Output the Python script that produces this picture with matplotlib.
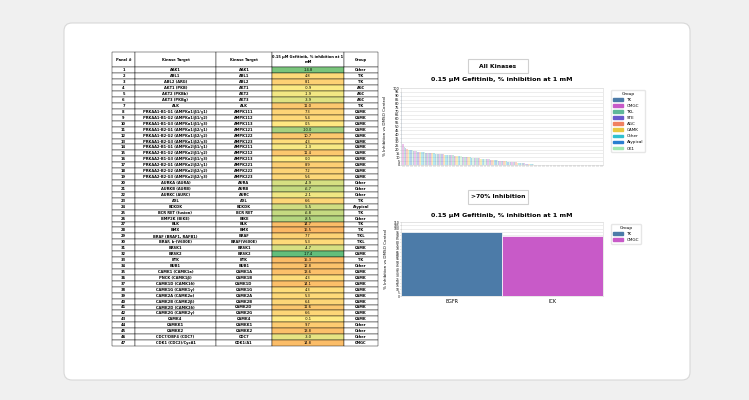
import matplotlib
matplotlib.use("Agg")
import matplotlib.pyplot as plt
from matplotlib.patches import FancyBboxPatch, Rectangle
from matplotlib.colors import LinearSegmentedColormap, Normalize

W, H = 749, 400
panel = list(range(1, 48))
targets = ["AAK1", "ABL1", "ABL2 (ARG)", "AKT1 (PKB)", "AKT2 (PKBb)", "AKT3 (PKBg)", "ALK",
           "PRKAA1-B1-G1 (AMPKα1/β1/γ1)", "PRKAA1-B1-G2 (AMPKα1/β1/γ2)", "PRKAA1-B1-G3 (AMPKα1/β1/γ3)",
           "PRKAA1-B2-G1 (AMPKα1/β2/γ1)", "PRKAA1-B2-G2 (AMPKα1/β2/γ2)", "PRKAA1-B2-G3 (AMPKα1/β2/γ3)",
           "PRKAA2-B1-G1 (AMPKα2/β1/γ1)", "PRKAA2-B1-G2 (AMPKα2/β1/γ2)", "PRKAA2-B1-G3 (AMPKα2/β1/γ3)",
           "PRKAA2-B2-G1 (AMPKα2/β2/γ1)", "PRKAA2-B2-G2 (AMPKα2/β2/γ2)", "PRKAA2-B2-G3 (AMPKα2/β2/γ3)",
           "AURKA (AURA)", "AURKB (AURB)", "AURKC (AURC)", "AXL", "BCKDK", "BCR RET (fusion)", "BMP2K (BIKE)",
           "BLK", "BMX", "BRAF (BRAF1, RAFB1)", "BRAF, b-(V600E)", "BRSK1", "BRSK2", "BTK", "BUB1",
           "CAMK1 (CAMK1a)", "PNCK (CAMK1β)", "CAMK1D (CAMK1δ)", "CAMK1G (CAMK1γ)", "CAMK2A (CAMK2α)",
           "CAMK2B (CAMK2β)", "CAMK2D (CAMK2δ)", "CAMK2G (CAMK2γ)", "CAMK4", "CAMKK1", "CAMKK2",
           "CDC7/DBF4 (CDC7)", "CDK1 (CDC2)/CycA1"]
short = ["AAK1", "ABL1", "ABL2", "AKT1", "AKT2", "AKT3", "ALK", "AMPK111", "AMPK112", "AMPK113",
         "AMPK121", "AMPK122", "AMPK123", "AMPK211", "AMPK212", "AMPK213", "AMPK221", "AMPK222", "AMPK223",
         "AURA", "AURB", "AURC", "AXL", "BCKDK", "BCR RET", "BIKE", "BLK", "BMX", "BRAF", "BRAF(V600E)",
         "BRSK1", "BRSK2", "BTK", "BUB1", "CAMK1A", "CAMK1B", "CAMK1D", "CAMK1G", "CAMK2A", "CAMK2B",
         "CAMK2D", "CAMK2G", "CAMK4", "CAMKK1", "CAMKK2", "CDC7", "CDK1/A1"]
inhib = [-14.8, 4.8, 8.1, -0.9, -1.9, -3.9, 11.0, 7.3, 5.4, 0.5, -10.0, 10.7, 4.3, -1.3, 11.4, 0.0,
         8.9, 7.2, 5.6, -4.9, -6.7, -2.1, 6.6, -5.5, -6.8, -8.5, 14.7, 16.5, 7.7, 5.3, -4.7, -17.4,
         15.3, 12.8, 13.6, 4.3, 14.1, 4.3, 5.3, 6.4, 11.6, 6.6, -0.1, 9.7, 13.8, -3.0, 14.8]
groups = ["Other", "TK", "TK", "AGC", "AGC", "AGC", "TK"] + ["CAMK"] * 12 + ["Other"] * 3 + \
         ["TK", "Atypical", "TK", "Other", "TK", "TK", "TKL", "TKL", "CAMK", "CAMK", "TK", "Other"] + \
         ["CAMK"] * 9 + ["Other"] * 3 + ["CMGC"]

legend_groups = ["TK", "CMGC", "TKL", "STE", "AGC", "CAMK", "Other", "Atypical", "CK1"]
group_colors = ["#4c7ba8", "#c85ac8", "#5fb89a", "#6a5acd", "#f08060", "#e8c840", "#30c0d0", "#2a7fd0", "#a0e8b0"]

all_values = [93, 27, 24, 22, 21, 20, 20, 19, 19, 18.5, 18, 18, 17.5, 17.5, 17, 17, 16.5, 16.5, 16, 16,
              15.8, 15.5, 15.3, 15, 15, 14.8, 14.7, 14.5, 14.3, 14.1, 14, 13.8, 13.6, 13.4, 13.2, 13, 12.8,
              12.6, 12.4, 12.2, 12, 11.8, 11.6, 11.4, 11.2, 11, 10.8, 10.7, 10.5, 10.3, 10.1, 9.9, 9.7, 9.5,
              9.3, 9.1, 8.9, 8.7, 8.5, 8.3, 8.1, 7.9, 7.7, 7.5, 7.3, 7.2, 7.0, 6.8, 6.6, 6.4, 6.2, 6.0, 5.8,
              5.6, 5.4, 5.3, 5.1, 4.9, 4.7, 4.5, 4.3, 4.1, 3.9, 3.7, 3.5, 3.3, 3.1, 2.9, 2.7, 2.5, 2.3, 2.1,
              1.9, 1.7, 1.5, 1.3, 1.1, 0.9, 0.7, 0.5, 0.3, 0.1, 0, -0.1, -0.3, -0.5, -0.7, -0.9, -1.1, -1.3,
              -1.5, -1.7, -1.9, -2.1, -2.3, -2.5, -2.7, -2.9, -3.1, -3.3, -3.5, -3.7, -3.9, -4.1, -4.3, -4.5,
              -4.7, -4.9, -5.1, -5.3, -5.5, -5.7, -6.0, -6.3, -6.6, -6.9, -7.2, -7.5, -7.8, -8.1, -8.5, -9.0,
              -9.5, -10.0, -10.5, -11.0, -12.0, -13.0, -14.8, -17.4]

top_names = ["EGFR", "ICK"]
top_values = [95, 89]
top_groups = ["TK", "CMGC"]

fig = plt.figure(figsize=(W / 100, H / 100), dpi=100)
fig.patch.set_facecolor("#f0f0f0")

def box(x, y, w, h):
    return [x / W, 1 - (y + h) / H, w / W, h / H]

bg = fig.add_axes([0, 0, 1, 1]); bg.set_xlim(0, W); bg.set_ylim(H, 0); bg.axis("off")
bg.add_patch(FancyBboxPatch((64, 23), 626, 357, boxstyle="round,pad=0,rounding_size=8",
                            fc="white", ec="#d8d8d8", lw=0.8))
for (x, y, w, h, t) in [(468, 59, 60, 14, "All Kinases"), (468, 190, 60, 14, ">70% Inhibition")]:
    bg.add_patch(Rectangle((x, y), w, h, fc="white", ec="#d0d0d0", lw=0.8))
    bg.text(x + w / 2, y + h / 2, t, ha="center", va="center", fontsize=4.3, fontweight="bold")
bg.text(502, 80, "0.15 µM Gefitinib, % inhibition at 1 mM", ha="center", va="center", fontsize=4.6, fontweight="bold")
bg.text(502, 215, "0.15 µM Gefitinib, % inhibition at 1 mM", ha="center", va="center", fontsize=4.6, fontweight="bold")

# table
tax = fig.add_axes(box(112, 52, 266, 294)); tax.axis("off")
cmap = LinearSegmentedColormap.from_list("gyo", ["#63be7b", "#ffeb84", "#fbb865"])
norm = Normalize(-17.4, 16.5)
cells = [[str(p), t, s, f"{v:.1f}", g] for p, t, s, v, g in zip(panel, targets, short, inhib, groups)]
colours = [["white", "white", "white", cmap(norm(v)), "white"] for v in inhib]
tb = tax.table(cellText=cells, cellColours=colours,
               colLabels=["Panel #", "Kinase Target", "Kinase Target", "0.15 µM Gefitinib, % inhibition at 1\nmM", "Group"],
               colWidths=[23, 81, 56, 72, 34], loc="upper left", bbox=[0, 0, 1, 1], cellLoc="center")
tb.auto_set_font_size(False)
for (r, c), cell in tb.get_celld().items():
    cell.set_linewidth(0.3)
    cell.get_text().set_fontsize(2.6)
    if r == 0:
        cell.set_height(cell.get_height() * 2.6)
        cell.get_text().set_fontweight("bold")
    elif c != 3:
        cell.get_text().set_fontweight("bold")

cmap_g = dict(zip(legend_groups, group_colors))

ax1 = fig.add_axes(box(401, 88, 202, 77))
ax1.bar(range(len(all_values)), all_values, width=1.0,
        color=[group_colors[i % len(group_colors)] for i in range(len(all_values))], alpha=0.35)
ax1.set_ylim(0, 100); ax1.set_xlim(-0.5, len(all_values) - 0.5)
ax1.set_yticks(range(0, 101, 5))
ax1.set_ylabel("% Inhibition vs DMSO Control", fontsize=3)
ax1.set_xticks(range(len(all_values))); ax1.set_xticklabels([])
ax1.tick_params(labelsize=2.5, length=0.5, width=0.3, pad=0.5)
ax1.grid(axis="y", color="#e6e6e6", lw=0.5); ax1.set_axisbelow(True)
for s in ax1.spines.values(): s.set_color("#e0e0e0"); s.set_linewidth(0.5)
h1 = [Rectangle((0, 0), 1, 1, color=c) for c in group_colors]
ax1.legend(h1, legend_groups, title="Group", fontsize=3, title_fontsize=3.2, loc="upper left",
           bbox_to_anchor=(1.03, 1.0), frameon=True, edgecolor="#e0e0e0", handlelength=2.5, handleheight=0.6)

ax2 = fig.add_axes(box(401, 222, 202, 74))
ax2.bar(top_names, top_values, width=1.0, color=[cmap_g[g] for g in top_groups], edgecolor="white", lw=0.5)
ax2.set_ylim(0, 110); ax2.set_xlim(-0.5, 1.5)
ax2.set_yticks(range(0, 111, 5))
ax2.set_ylabel("% Inhibition vs DMSO Control", fontsize=3)
ax2.tick_params(axis="y", labelsize=2.2, length=0.5, width=0.3, pad=0.5)
ax2.tick_params(axis="x", labelsize=3.5, length=0, pad=2)
ax2.grid(axis="y", color="#e6e6e6", lw=0.5); ax2.set_axisbelow(True)
for s in ax2.spines.values(): s.set_color("#e0e0e0"); s.set_linewidth(0.5)
h2 = [Rectangle((0, 0), 1, 1, color=cmap_g[g]) for g in top_groups]
ax2.legend(h2, top_groups, title="Group", fontsize=3, title_fontsize=3.2, loc="upper left",
           bbox_to_anchor=(1.03, 1.0), frameon=True, edgecolor="#e0e0e0", handlelength=2.5, handleheight=0.6)

fig.savefig("out.png", dpi=100)
